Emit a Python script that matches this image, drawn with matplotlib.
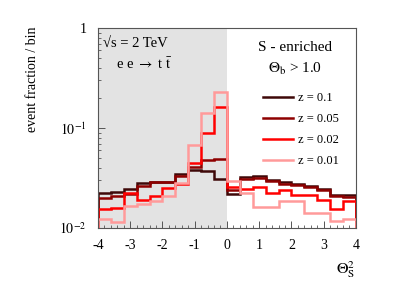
import numpy as np
import matplotlib

matplotlib.use("Agg")

import matplotlib.pyplot as plt
from matplotlib.ticker import LogLocator, MultipleLocator, NullFormatter

plt.rcParams["font.family"] = ["Liberation Serif", "DejaVu Serif"]
plt.rcParams["mathtext.fontset"] = "stix"

# bin edges of Theta_S^2 (20 bins of 0.4)
edges = np.linspace(-4, 4, 21)

z_labels = ["z = 0.1", "z = 0.05", "z = 0.02", "z = 0.01"]
z_colors = ["#3e0808", "#8e0000", "#ff0000", "#ff9a9a"]

frac_z010 = [0.0222, 0.0229, 0.0245, 0.0280, 0.0288, 0.0290, 0.0346, 0.0380, 0.0374, 0.0308,
             0.0219, 0.0321, 0.0334, 0.0305, 0.0286, 0.0279, 0.0262, 0.0245, 0.0215, 0.0213]
frac_z005 = [0.0202, 0.0210, 0.0221, 0.0263, 0.0286, 0.0290, 0.0334, 0.0405, 0.0480, 0.0490,
             0.0239, 0.0308, 0.0316, 0.0297, 0.0275, 0.0272, 0.0255, 0.0240, 0.0208, 0.0205]
frac_z002 = [0.0155, 0.0160, 0.0222, 0.0192, 0.0210, 0.0252, 0.0275, 0.0450, 0.0890, 0.1620,
             0.0258, 0.0245, 0.0260, 0.0226, 0.0239, 0.0213, 0.0213, 0.0190, 0.0156, 0.0187]
frac_z001 = [0.0122, 0.0116, 0.0166, 0.0175, 0.0185, 0.0210, 0.0280, 0.0680, 0.1430, 0.2280,
             0.0297, 0.0226, 0.0164, 0.0164, 0.0187, 0.0187, 0.0143, 0.0143, 0.0118, 0.0122]
series = [frac_z010, frac_z005, frac_z002, frac_z001]

x_ticks = [-4, -3, -2, -1, 0, 1, 2, 3, 4]
y_ticks = [0.01, 0.1, 1]
y_ticklabels = [r"$10^{-2}$", r"$10^{-1}$", "1"]

fig = plt.figure(figsize=(3.95, 2.84), dpi=100)
ax = fig.add_axes([0.248, 0.197, 0.653, 0.704])

ax.axvspan(-4, 0, color="#e3e3e3", lw=0, zorder=0)

for vals, col, lab in zip(series, z_colors, z_labels):
    ax.stairs(vals, edges, color=col, lw=1.8, label=lab, zorder=2)

ax.set_yscale("log")
ax.set_xlim(-4, 4)
ax.set_ylim(0.01, 1)

ax.set_xticks(x_ticks)
ax.set_xticklabels([str(t) for t in x_ticks])
ax.xaxis.set_minor_locator(MultipleLocator(0.2))
ax.set_yticks(y_ticks)
ax.set_yticklabels(y_ticklabels)
ax.yaxis.set_minor_locator(LogLocator(base=10, subs=np.arange(2, 10)))
ax.yaxis.set_minor_formatter(NullFormatter())

ax.tick_params(axis="both", which="both", direction="in", colors="#555555",
               labelcolor="black", labelsize=10, top=False, right=False)
ax.tick_params(axis="both", which="major", length=5, width=0.7)
ax.tick_params(axis="both", which="minor", length=2.5, width=0.6)
ax.tick_params(axis="x", pad=8)
ax.tick_params(axis="y", pad=8)

for sp in ax.spines.values():
    sp.set_color("#555555")
    sp.set_linewidth(0.8)

fig.text(0.083, 0.72, "event fraction / bin", rotation=90, ha="center", va="center",
         fontsize=10)
fig.text(0.875, 0.05, r"$\Theta^2_{\rm S}$", ha="center", va="center", fontsize=11.5)

ax.text(0.02, 0.925, "\u221as = 2 TeV", transform=ax.transAxes, ha="left", va="center",
        fontsize=10.5)
ax.text(0.07, 0.82, r"e e $\rightarrow$ t $\bar{\rm t}$", transform=ax.transAxes,
        ha="left", va="center", fontsize=10.5)
ax.text(0.765, 0.905, "S - enriched", transform=ax.transAxes, ha="center", va="center",
        fontsize=11)
ax.text(0.765, 0.795, r"$\Theta_{\rm b}$ > 1.0", transform=ax.transAxes, ha="center",
        va="center", fontsize=11)

ax.legend(loc="upper left", bbox_to_anchor=(0.62, 0.705), frameon=False, fontsize=9,
          handlelength=2.4, handletextpad=0.4, labelspacing=0.72, borderaxespad=0)

fig.savefig("out.png", dpi=100)
